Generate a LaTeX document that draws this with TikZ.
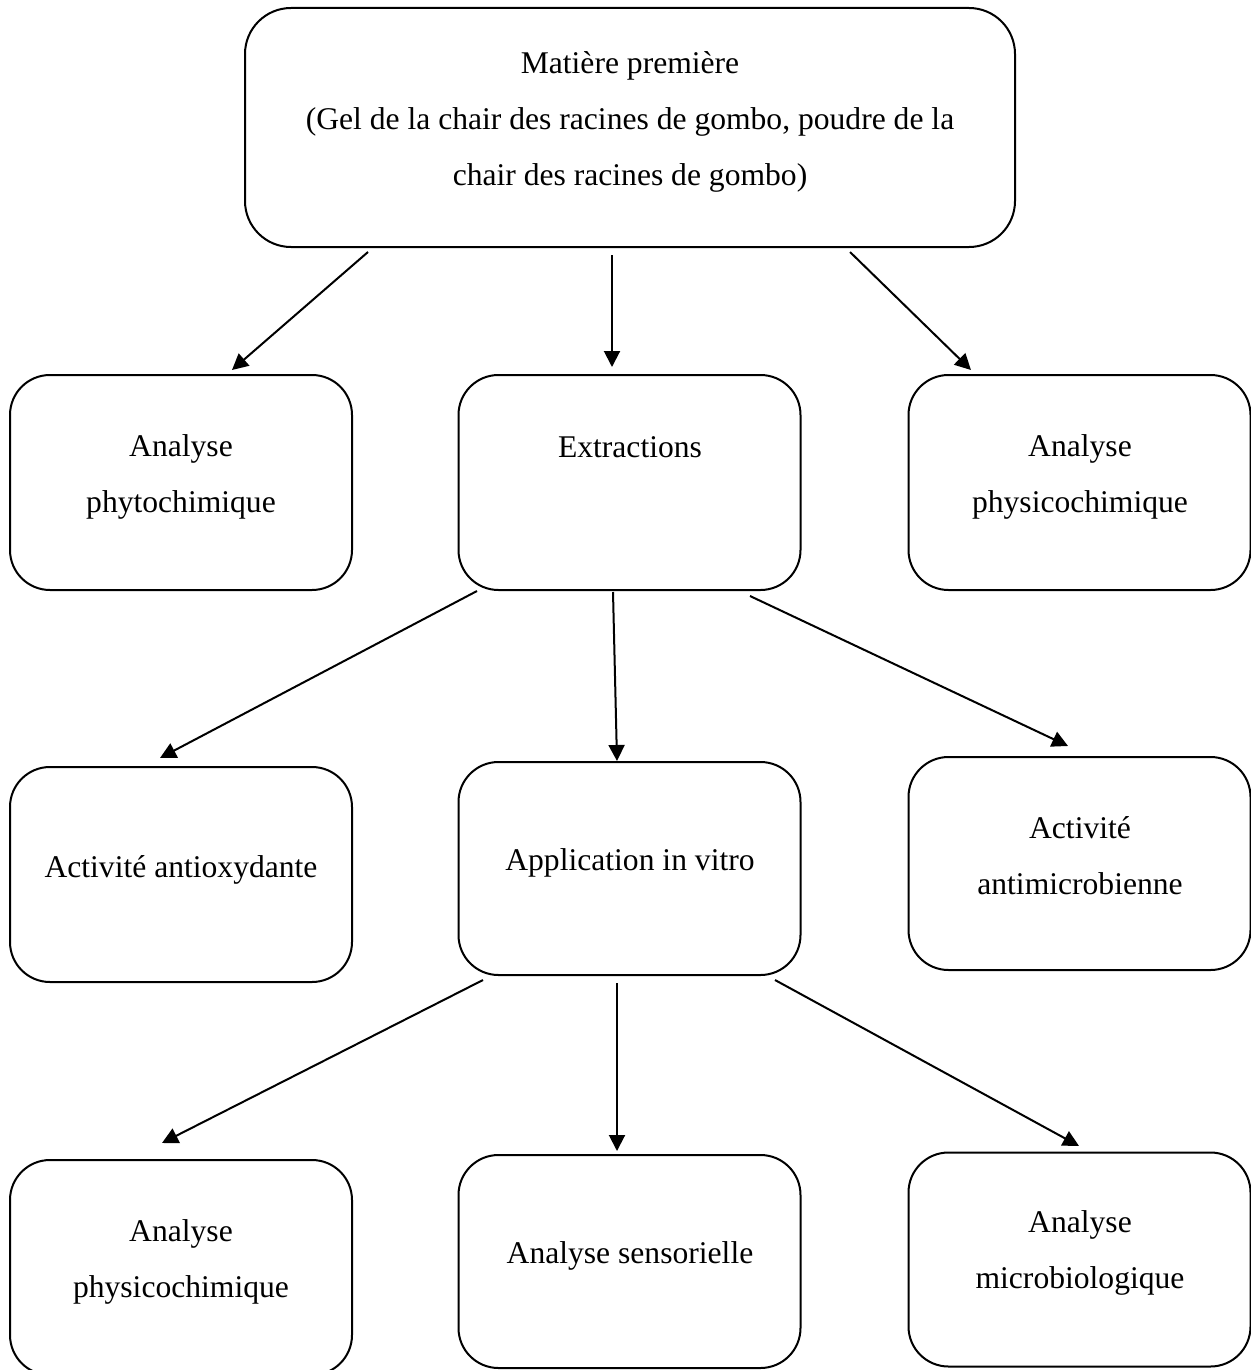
\documentclass[tikz,border=0pt]{standalone}
\usepackage{fontspec}
\setmainfont{Liberation Serif}
\usetikzlibrary{arrows.meta}
\begin{document}
\begin{tikzpicture}[x=0.5pt,y=-0.5pt,
  box/.style={draw,line width=1pt,rounded corners=20pt,inner sep=0pt,outer sep=0pt,minimum width=171pt},
  lbl/.style={anchor=base,align=center,inner sep=0pt,font=\fontsize{15.8pt}{28pt}\selectfont},
  arr/.style={line width=1pt,-{Triangle[length=8pt,width=8pt]}}]
\useasboundingbox (0,0) rectangle (1251,1370);
\clip (0,0) rectangle (1251,1370);
% boxes
\node[box,rounded corners=23pt,minimum width=385pt,minimum height=119.5pt] (top) at (630,127.5) {};
\node[box,minimum height=107.5pt] (phyto) at (181,482.5) {};
\node[box,minimum height=107.5pt] (extr) at (629.5,482.5) {};
\node[box,minimum height=107.5pt] (physA) at (1079.5,482.5) {};
\node[box,minimum height=107.5pt] (antiox) at (181,874.5) {};
\node[box,minimum height=106.5pt] (appl) at (629.5,868.5) {};
\node[box,minimum height=106.5pt] (antimic) at (1079.5,863.5) {};
\node[box,minimum height=107.5pt] (physB) at (181,1267.5) {};
\node[box,minimum height=106.5pt] (sens) at (629.5,1261.5) {};
\node[box,minimum height=107pt] (micro) at (1079.5,1259.5) {};
% labels (anchored at the baseline of their last line)
\node[lbl] (ttop) at (630,185) {Matière première\\(Gel de la chair des racines de gombo, poudre de la\\chair des racines de gombo)};
\node[lbl] (tphyto) at (181,512) {Analyse\\phytochimique};
\node[lbl] (textr) at (630,457) {Extractions};
\node[lbl] (tphysA) at (1080,512) {Analyse\\physicochimique};
\node[lbl] (tantiox) at (181,877) {Activité antioxydante};
\node[lbl] (tappl) at (630,870) {Application in vitro};
\node[lbl] (tantimic) at (1080,894) {Activité\\antimicrobienne};
\node[lbl] (tphysB) at (181,1297) {Analyse\\physicochimique};
\node[lbl] (tsens) at (630,1263) {Analyse sensorielle};
\node[lbl] (tmicro) at (1080,1288) {Analyse\\microbiologique};
% arrow end points
\coordinate (a1s) at (368,252); \coordinate (a1e) at (232,370);
\coordinate (a2s) at (612,255); \coordinate (a2e) at (612,367);
\coordinate (a3s) at (850,252); \coordinate (a3e) at (971,370);
\coordinate (a4s) at (477,591); \coordinate (a4e) at (160,758);
\coordinate (a5s) at (613,592); \coordinate (a5e) at (617,761);
\coordinate (a6s) at (750,596); \coordinate (a6e) at (1068,746);
\coordinate (a7s) at (483,980); \coordinate (a7e) at (162,1143);
\coordinate (a8s) at (617,983); \coordinate (a8e) at (617,1151);
\coordinate (a9s) at (775,980); \coordinate (a9e) at (1079,1146);
\foreach \i in {1,...,9} {\draw[arr] (a\i s) -- (a\i e);}
\end{tikzpicture}
\end{document}
